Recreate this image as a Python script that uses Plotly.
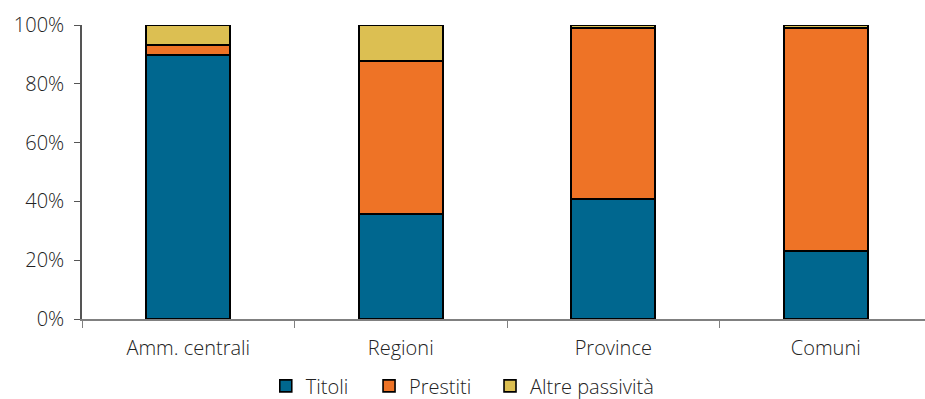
import plotly.graph_objects as go

categories = ["Amm. centrali", "Regioni", "Province", "Comuni"]
titoli = [89.8, 35.7, 40.8, 23.1]
prestiti = [3.4, 52.1, 58.2, 75.9]
altre = [6.8, 12.2, 1.0, 1.0]
y_ticks = [0, 20, 40, 60, 80, 100]
y_tick_labels = ["0%", "20%", "40%", "60%", "80%", "100%"]

series = [
    ("Titoli", titoli, "#00678F", "legend", 0.218),
    ("Prestiti", prestiti, "#EE7326", "legend2", 0.3405),
    ("Altre passività", altre, "#DCBF52", "legend3", 0.4840),
]

font_family = "Open Sans, Noto Sans, sans-serif"
text_weight = 300

fig = go.Figure()
legends = {}
for name, vals, color, legend_id, legend_x in series:
    fig.add_trace(go.Bar(
        x=categories, y=vals, name=name, width=0.395, legend=legend_id,
        marker=dict(color=color, line=dict(color="#000000", width=1.6)),
    ))
    # one legend box per series so each entry sits at its own spot
    legends[legend_id] = dict(
        orientation="h", x=legend_x, xanchor="left", xref="paper",
        y=0.033, yanchor="middle", yref="container",
        font=dict(size=20, weight=text_weight), bgcolor="rgba(0,0,0,0)",
    )

fig.update_layout(
    barmode="stack",
    width=925, height=399,
    margin=dict(l=82, r=0, t=25, b=80),
    paper_bgcolor="white", plot_bgcolor="white",
    font=dict(family=font_family, size=20, color="#222222", weight=text_weight),
    showlegend=True,
    **legends,
)
fig.update_xaxes(
    range=[-0.5, 3.467], showline=True, linecolor="#808080", linewidth=1.5,
    ticks="outside", tickson="boundaries", ticklen=7, tickcolor="#808080",
    showgrid=False, tickangle=0, ticklabelstandoff=10,
    tickfont=dict(size=20, weight=text_weight),
)
fig.update_yaxes(
    range=[0, 100], tickmode="array", tickvals=y_ticks, ticktext=y_tick_labels,
    showline=True, linecolor="#555555", linewidth=1.5,
    ticks="outside", ticklen=6, tickcolor="#555555", ticklabelstandoff=6,
    showgrid=False, zeroline=False, tickfont=dict(size=20, weight=text_weight),
)

fig.write_html("out.html")
